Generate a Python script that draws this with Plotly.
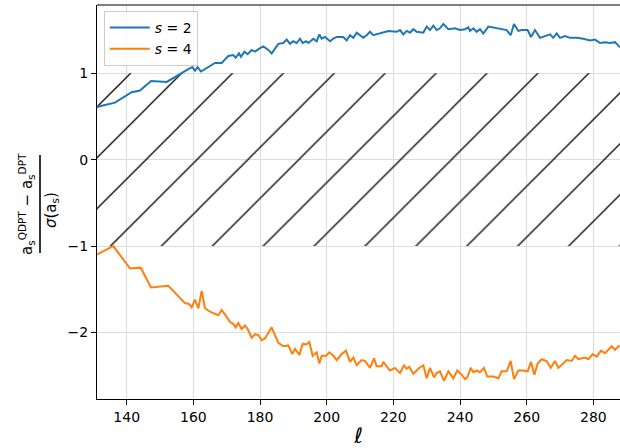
import plotly.graph_objects as go

# Multipole index and normalised QDPT - DPT differences for s = 2 and s = 4
ell_s2 = [131, 136.5, 141.5, 144, 147.3, 152, 159, 159.7, 160.5, 161.3, 162.3, 163.5,
          166.5, 168.5, 170, 170.5, 172, 172.7, 173.7, 174.3, 175.3, 176.3, 177.5, 178.5,
          180, 181, 182.5, 183.5, 185.5, 187, 188, 189, 190, 191, 192, 192.8, 193.8, 194.5,
          196, 197, 197.8, 198.5, 199.5, 201, 202, 203, 205, 206, 207, 208, 209, 210, 211,
          212, 213, 214, 216, 218.5, 221, 222, 223, 224, 225, 226, 227, 229, 230, 231, 232,
          233, 234, 235, 236.5, 238.5, 240, 241.5, 242.5, 243, 244, 245, 246, 247, 248.5,
          250, 251.5, 254, 255.2, 256.2, 257.5, 258.5, 260.3, 261.3, 262.5, 264, 265.5, 267,
          268, 269, 270, 271.5, 273, 275, 277, 279, 280.5, 282, 283.5, 285, 286.5, 288]
diff_s2 = [0.61, 0.66, 0.78, 0.80, 0.91, 0.90, 1.06, 1.07, 1.03, 1.07, 1.02, 1.05,
           1.12, 1.12, 1.18, 1.20, 1.21, 1.18, 1.23, 1.19, 1.25, 1.22, 1.27, 1.25,
           1.29, 1.31, 1.27, 1.23, 1.34, 1.35, 1.39, 1.34, 1.37, 1.35, 1.40, 1.35, 1.37, 1.35,
           1.40, 1.37, 1.45, 1.40, 1.42, 1.37, 1.40, 1.42, 1.42, 1.38, 1.44, 1.41, 1.47, 1.44, 1.41,
           1.44, 1.48, 1.44, 1.46, 1.49, 1.48, 1.50, 1.45, 1.49, 1.47, 1.51, 1.48, 1.47, 1.54, 1.50, 1.55,
           1.50, 1.52, 1.57, 1.51, 1.52, 1.50, 1.51, 1.53, 1.49, 1.52, 1.48, 1.51, 1.46, 1.54,
           1.53, 1.52, 1.50, 1.44, 1.57, 1.49, 1.50, 1.50, 1.42, 1.50, 1.41, 1.43, 1.45,
           1.41, 1.46, 1.41, 1.43, 1.41, 1.41, 1.40, 1.38, 1.39, 1.35, 1.36, 1.35, 1.36, 1.30]

ell_s4 = [131, 136, 141, 144.2, 147.3, 152.5, 157.5, 158.7, 159.5, 160.5, 161.5, 162.5,
          163.5, 165, 167.5, 168.5, 170, 171, 172, 172.7, 173.5, 174.5, 175.5, 176.3,
          177.5, 178.5, 179.5, 180.5, 181.5, 183.5, 185.5, 187, 188.5, 189.7, 190.5, 191.8,
          192.8, 193.8, 194.8, 195.8, 197, 197.8, 198.5, 199.8, 200.8, 202, 203, 204.5,
          205.8, 207, 208, 209, 210.5, 211.5, 213, 214.2, 215, 216.5, 217, 219, 220.5, 222,
          223.2, 224, 224.8, 226, 227.5, 229, 230, 231, 232.2, 233, 234, 235.2, 236.5, 238,
          239.2, 240.3, 241.5, 242.2, 243.2, 244, 245, 246, 247.2, 248.2, 250, 251.5, 252.5,
          254, 255.2, 256.2, 257.5, 259, 260.3, 261.3, 262.3, 263.3, 264.5, 266, 267.2,
          268.5, 269.5, 271, 272, 273.5, 274.5, 275.5, 277.5, 278.5, 279.8, 281, 282.3,
          283.5, 285.5, 286.5, 287.8]
diff_s4 = [-1.10, -1.00, -1.26, -1.25, -1.48, -1.46, -1.66, -1.67, -1.71, -1.62, -1.72, -1.52,
           -1.72, -1.76, -1.80, -1.74, -1.82, -1.88, -1.90, -1.94, -1.89, -1.96, -1.92, -1.96,
           -2.06, -2.02, -2.03, -2.09, -2.07, -1.94, -2.12, -2.16, -2.15, -2.25, -2.19, -2.26,
           -2.13, -2.14, -2.11, -2.27, -2.23, -2.36, -2.27, -2.27, -2.23, -2.27, -2.32, -2.25,
           -2.21, -2.34, -2.29, -2.38, -2.32, -2.33, -2.41, -2.30, -2.39, -2.39, -2.34, -2.44, -2.41, -2.47,
           -2.38, -2.42, -2.40, -2.48, -2.42, -2.38, -2.53, -2.41, -2.52, -2.47, -2.45, -2.56, -2.45, -2.53,
           -2.44, -2.48, -2.54, -2.52, -2.41, -2.46, -2.44, -2.46, -2.41, -2.51, -2.51, -2.53, -2.45,
           -2.45, -2.33, -2.54, -2.44, -2.44, -2.45, -2.34, -2.49, -2.36, -2.31, -2.33, -2.41,
           -2.33, -2.41, -2.36, -2.32, -2.33, -2.27, -2.31, -2.29, -2.31, -2.25, -2.28, -2.21,
           -2.24, -2.16, -2.20, -2.15]

# 1-sigma band that is hatched
band_lo, band_hi = -1, 1

x_range = [131.1, 288.0]
y_range = [-2.77, 1.79]
x_ticks = [140, 160, 180, 200, 220, 240, 260, 280]
y_ticks = [-2, -1, 0, 1]
y_ticklabels = ["\u22122", "\u22121", "0", "1"]

W, H = 620, 448
L, R, T, B = 97, 0, 5, 49
FONT = "DejaVu Sans"

fig = go.Figure()

fig.add_trace(go.Scatter(
    x=[x_range[0], x_range[1], x_range[1], x_range[0], x_range[0]],
    y=[band_lo, band_lo, band_hi, band_hi, band_lo],
    fill="toself", mode="lines", line=dict(width=0),
    fillcolor="rgba(0,0,0,0)",
    fillpattern=dict(shape="/", size=36, solidity=0.036, fgcolor="black",
                     bgcolor="rgba(0,0,0,0)", fgopacity=1),
    hoverinfo="skip", showlegend=False,
))

fig.add_trace(go.Scatter(x=ell_s2, y=diff_s2, mode="lines", name="<i>s</i> = 2",
                         line=dict(color="#1f77b4", width=2)))
fig.add_trace(go.Scatter(x=ell_s4, y=diff_s4, mode="lines", name="<i>s</i> = 4",
                         line=dict(color="#ff7f0e", width=2)))

axis_common = dict(showgrid=True, gridcolor="#dcdcdc", gridwidth=1, zeroline=False,
                   showline=True, linecolor="black", linewidth=1.2,
                   ticks="outside", ticklen=5, tickwidth=1.2, tickcolor="black",
                   tickfont=dict(family=FONT, size=14, color="black"))

fig.update_xaxes(range=x_range, tickvals=x_ticks, **axis_common,
                 title=dict(text="<i>\u2113</i>", font=dict(family=FONT, size=21, color="black"),
                            standoff=6))
fig.update_yaxes(range=y_range, tickvals=y_ticks, ticktext=y_ticklabels, **axis_common)

# top spine
fig.add_shape(type="line", xref="paper", yref="paper", x0=0, x1=1, y0=1, y1=1,
              line=dict(color="#555555", width=1.6))

# y-axis label drawn as a stacked fraction
pw, ph = W - L - R, H - T - B
def px_x(p):
    return (p - L) / pw
def px_y(p):
    return (H - B - p) / ph

fig.add_shape(type="line", xref="paper", yref="paper",
              x0=px_x(40), x1=px_x(40), y0=px_y(155), y1=px_y(253),
              line=dict(color="black", width=1.6))
fig.add_annotation(xref="paper", yref="paper", x=px_x(26), y=px_y(204),
                   xanchor="center", yanchor="middle",
                   text="a<sub>s</sub><sup>QDPT</sup> \u2212 a<sub>s</sub><sup>DPT</sup>",
                   textangle=-90, showarrow=False,
                   font=dict(family=FONT, size=15, color="black"))
fig.add_annotation(xref="paper", yref="paper", x=px_x(51), y=px_y(210),
                   xanchor="center", yanchor="middle",
                   text="<i>\u03c3</i>(a<sub>s</sub>)",
                   textangle=-90, showarrow=False,
                   font=dict(family=FONT, size=15, color="black"))

fig.update_layout(
    width=W, height=H,
    margin=dict(l=L, r=R, t=T, b=B),
    paper_bgcolor="white", plot_bgcolor="white",
    font=dict(family=FONT, color="black"),
    legend=dict(x=0.013, y=0.985, xanchor="left", yanchor="top",
                bgcolor="rgba(255,255,255,0.8)", bordercolor="#cccccc", borderwidth=1,
                font=dict(family=FONT, size=14, color="black"),
                itemwidth=40, tracegroupgap=0),
)

fig.write_html("out.html")
